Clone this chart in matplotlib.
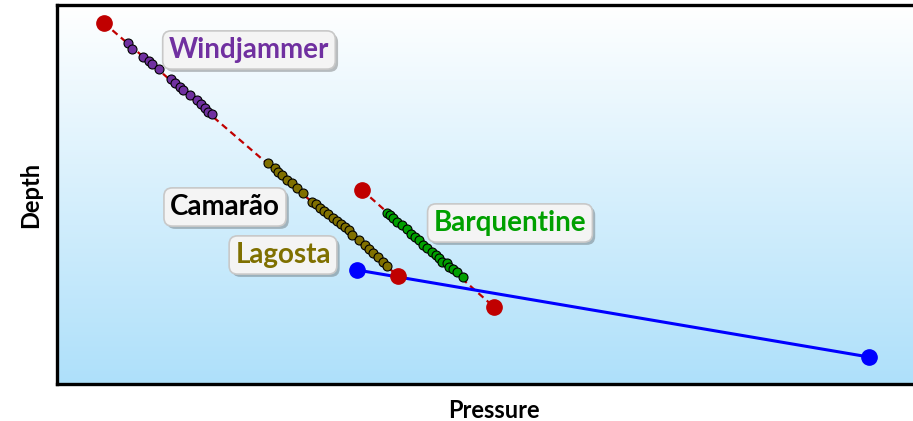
import numpy as np
import matplotlib
matplotlib.use("Agg")
import matplotlib.pyplot as plt
import matplotlib.patheffects as pe

plt.rcParams['font.family'] = ['Lato', 'DejaVu Sans']

# pressure / depth readings (arbitrary units, depth grows downward)
windjammer_p = [128.3, 132.3, 142.7, 149.0, 151.7, 159.0, 170.7, 175.0, 180.0, 183.3,
                190.0, 196.7, 200.7, 205.0, 208.3, 212.3]
windjammer_d = [43.3, 49.0, 56.7, 61.0, 64.0, 69.3, 79.0, 83.0, 86.7, 90.0,
                95.0, 100.0, 104.0, 108.3, 111.7, 114.3]

lagosta_p = [268.3, 275.0, 278.3, 281.7, 286.7, 291.7, 296.7, 302.7, 311.7, 315.7,
             320.0, 324.0, 328.3, 332.7, 336.7, 341.0, 345.0, 349.0, 352.3, 359.3,
             365.0, 369.3, 373.3, 378.3, 383.3, 387.3]
lagosta_d = [163.3, 168.3, 171.7, 175.0, 180.0, 183.3, 188.3, 192.7, 201.7, 204.3,
             208.3, 211.0, 214.3, 217.7, 221.0, 224.0, 226.7, 230.0, 235.0, 240.0,
             245.0, 249.0, 252.7, 256.7, 261.7, 265.7]

barq_p = [386.7, 390.0, 393.3, 397.3, 401.7, 406.7, 410.7, 415.0, 419.3, 423.3,
          427.3, 431.7, 436.0, 439.3, 441.7, 446.7, 449.3, 453.3, 457.3, 462.7]
barq_d = [212.7, 215.0, 218.3, 221.7, 225.0, 229.3, 234.0, 236.7, 240.0, 245.0,
          248.3, 251.7, 255.0, 258.3, 261.7, 263.3, 266.7, 269.3, 271.7, 277.3]

trend1_p = [104, 398]
trend1_d = [23, 276]
trend2_p = [362, 494]
trend2_d = [190, 307]
blue_p = [357, 869]
blue_d = [270, 357]

labels = ['Windjammer', 'Camarão', 'Lagosta', 'Barquentine']
label_colors = ['#7030a0', '#000000', '#7f7000', '#00a000']
label_p = [249, 225, 283, 510]
label_d = [50, 207, 255, 223]

fig = plt.figure(figsize=(9.13, 4.21), dpi=100)
ax = fig.add_axes([57 / 913, 1 - 384 / 421, 1.02 - 57 / 913, 379 / 421])

# background gradient white (top) -> light blue (bottom)
grad = np.linspace(0, 1, 256).reshape(-1, 1)
top = np.array([1.0, 1.0, 1.0])
bot = np.array([174, 224, 250]) / 255
img = top + (bot - top) * grad[:, :, None]
ax.imshow(img, extent=[0, 1, 0, 1], transform=ax.transAxes, aspect='auto', zorder=0)

ax.plot(trend1_p, trend1_d, color='#c00000', ls=(0, (3, 2)), lw=1.6, zorder=2)
ax.plot(trend2_p, trend2_d, color='#c00000', ls=(0, (3, 2)), lw=1.6, zorder=2)
ax.plot(trend1_p, trend1_d, 'o', color='#c00000', ms=11, ls='none', zorder=5)
ax.plot(trend2_p, trend2_d, 'o', color='#c00000', ms=11, ls='none', zorder=5)
ax.plot(blue_p, blue_d, color='#0000ff', lw=2.2, marker='o', ms=11, zorder=3)

ax.scatter(windjammer_p, windjammer_d, s=42, c='#7030a0', edgecolors='black', linewidths=0.8, zorder=4)
ax.scatter(lagosta_p, lagosta_d, s=42, c='#807000', edgecolors='black', linewidths=0.8, zorder=4)
ax.scatter(barq_p, barq_d, s=42, c='#00a000', edgecolors='black', linewidths=0.8, zorder=4)

for name, col, px, py in zip(labels, label_colors, label_p, label_d):
    t = ax.text(px, py, name, color=col, fontsize=20, fontweight='bold',
                ha='center', va='center', zorder=6,
                bbox=dict(boxstyle='round,pad=0.22,rounding_size=0.3',
                          fc='#f4f4f4', ec='#c8c8c8', lw=1.2))
    t.get_bbox_patch().set_path_effects([
        pe.SimplePatchShadow(offset=(2, -2), alpha=0.35), pe.Normal()])

ax.set_xlim(57, 913 + 0.02 * 913)
ax.set_ylim(384, 5)
ax.set_xticks([])
ax.set_yticks([])
for side in ['top', 'left', 'bottom', 'right']:
    ax.spines[side].set_linewidth(2.4)
    ax.spines[side].set_color('black')

ax.set_xlabel('Pressure', fontsize=17, fontweight='bold', labelpad=11)
ax.set_ylabel('Depth', fontsize=17, fontweight='bold', labelpad=11)

fig.savefig('out.png', dpi=100)
